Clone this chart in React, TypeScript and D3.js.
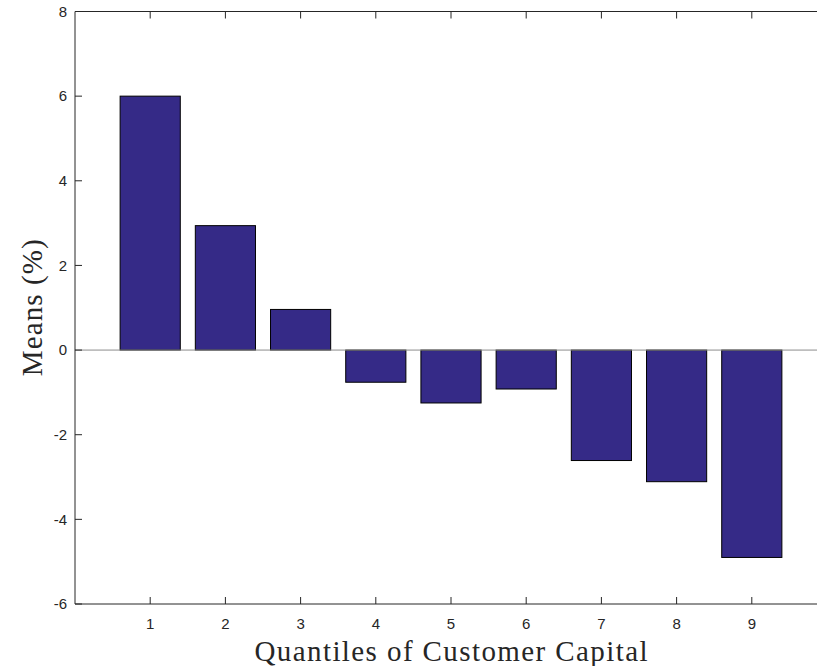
import React from "react";
import * as d3 from "d3";

const quantiles = [1, 2, 3, 4, 5, 6, 7, 8, 9];
const means = [6.0, 2.94, 0.96, -0.76, -1.25, -0.92, -2.61, -3.11, -4.9];
const yTicks = [-6, -4, -2, 0, 2, 4, 6, 8];

const W = 817;
const H = 666;
const left = 75;
const right = 827;
const top = 11.5;
const bottom = 604;

export default function App() {
  const x = d3.scaleLinear().domain([0, 10]).range([left, right]);
  const y = d3.scaleLinear().domain([-6, 8]).range([bottom, top]);
  const barW = x(0.8) - x(0);
  const tickLen = 7;
  const axisColor = "#262626";
  const tickFont = "Liberation Sans, Arial, sans-serif";
  const titleFont = "Liberation Serif, Times New Roman, serif";

  return (
    <svg
      width={W}
      height={H}
      style={{ position: "absolute", left: 0, top: 0, background: "#fff" }}
    >
      {/* bars */}
      {quantiles.map((q, i) => {
        const v = means[i];
        const y0 = y(Math.max(0, v));
        const h = Math.abs(y(v) - y(0));
        return (
          <rect
            key={q}
            x={x(q) - barW / 2}
            y={y0}
            width={barW}
            height={h}
            fill="#352A87"
            stroke="#000"
            strokeWidth={1}
          />
        );
      })}

      {/* baseline */}
      <line x1={left} x2={W} y1={y(0)} y2={y(0)} stroke="#8c8c8c" strokeWidth={1} />

      {/* axes box */}
      <line x1={left} x2={left} y1={top} y2={bottom} stroke={axisColor} strokeWidth={1} />
      <line x1={left} x2={W} y1={bottom} y2={bottom} stroke={axisColor} strokeWidth={1} />
      <line x1={left} x2={W} y1={top} y2={top} stroke={axisColor} strokeWidth={1} />

      {/* y ticks */}
      {yTicks.map((t) => (
        <g key={t}>
          <line
            x1={left}
            x2={left + tickLen}
            y1={y(t)}
            y2={y(t)}
            stroke={axisColor}
            strokeWidth={1}
          />
          <text
            x={left - 8}
            y={y(t)}
            dy="0.35em"
            textAnchor="end"
            fontFamily={tickFont}
            fontSize={15}
            fill="#262626"
          >
            {t}
          </text>
        </g>
      ))}

      {/* x ticks */}
      {quantiles.map((q) => (
        <g key={q}>
          <line
            x1={x(q)}
            x2={x(q)}
            y1={bottom}
            y2={bottom - tickLen}
            stroke={axisColor}
            strokeWidth={1}
          />
          <line
            x1={x(q)}
            x2={x(q)}
            y1={top}
            y2={top + tickLen}
            stroke={axisColor}
            strokeWidth={1}
          />
          <text
            x={x(q)}
            y={bottom + 20}
            dy="0.35em"
            textAnchor="middle"
            fontFamily={tickFont}
            fontSize={15}
            fill="#262626"
          >
            {q}
          </text>
        </g>
      ))}

      {/* axis titles */}
      <text
        x={(left + right) / 2}
        y={661}
        textAnchor="middle"
        fontFamily={titleFont}
        fontSize={29}
        textLength={393}
        lengthAdjust="spacing"
        fill="#262626"
      >
        Quantiles of Customer Capital
      </text>
      <text
        transform={`translate(42, ${(top + bottom) / 2}) rotate(-90)`}
        textAnchor="middle"
        fontFamily={titleFont}
        fontSize={29}
        textLength={137}
        lengthAdjust="spacing"
        fill="#262626"
      >
        Means (%)
      </text>
    </svg>
  );
}
